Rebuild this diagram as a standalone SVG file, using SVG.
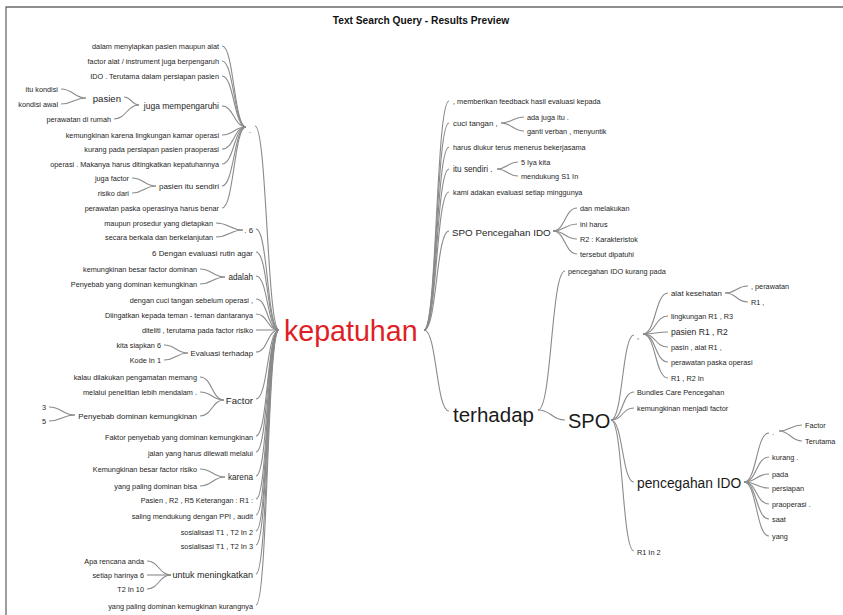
<svg xmlns="http://www.w3.org/2000/svg" width="843" height="615" viewBox="0 0 843 615">
<style>
text{font-family:"Liberation Sans",Arial,sans-serif;fill:#262626;font-size:7.3px;dominant-baseline:central}
.e{text-anchor:end}
.ttl{font-weight:bold;font-size:10.2px;text-anchor:middle;fill:#111}
.m{font-size:8.2px}
.l{font-size:9.6px}
.big{font-size:28.6px;fill:#de1f26}
.h2{font-size:20.5px;fill:#1a1a1a}
.h3{font-size:20px;fill:#1a1a1a}
.h4{font-size:13.8px;fill:#1a1a1a}
.c path{fill:none;stroke:#8a8a8a;stroke-width:1.1}
</style>
<rect x="0" y="0" width="843" height="615" fill="#fff"/>
<path d="M6 615V7H843" fill="none" stroke="#6a6a6a" stroke-width="1.3"/>
<text class="ttl" x="421" y="20">Text Search Query - Results Preview</text>

<g id="connectors" class="c">
<path d="M222 46C234 46 234 127 246 127"/>
<path d="M222 61C234 61 234 127 246 127"/>
<path d="M222 76C234 76 234 127 246 127"/>
<path d="M222 106C234 106 234 127 246 127"/>
<path d="M222 135C234 135 234 127 246 127"/>
<path d="M222 149C234 149 234 127 246 127"/>
<path d="M222 164C234 164 234 127 246 127"/>
<path d="M222 186C234 186 234 127 246 127"/>
<path d="M222 208C234 208 234 127 246 127"/>
<path d="M124 97C131 97 132 105 139 105"/>
<path d="M114 119C126 119 127 105 139 105"/>
<path d="M61 89C73 89 74 98 86 98"/>
<path d="M61 104C73 104 74 98 86 98"/>
<path d="M132 178C144 178 144 186 156 186"/>
<path d="M132 193C144 193 144 186 156 186"/>
<path d="M216 223C229 223 230 230 243 230"/>
<path d="M216 237C229 237 230 230 243 230"/>
<path d="M200 269C212 269 213 277 225 277"/>
<path d="M200 284C212 284 213 277 225 277"/>
<path d="M164 345C176 345 176 353 188 353"/>
<path d="M164 360C176 360 176 353 188 353"/>
<path d="M200 377C212 377 212 400 224 400"/>
<path d="M200 392C212 392 212 400 224 400"/>
<path d="M200 416C212 416 212 400 224 400"/>
<path d="M49 407C62 407 62 415 75 415"/>
<path d="M49 421C62 421 62 415 75 415"/>
<path d="M200 469C212 469 213 477 225 477"/>
<path d="M200 486C212 486 213 477 225 477"/>
<path d="M147 561C159 561 159 575 171 575"/>
<path d="M147 575C159 575 159 575 171 575"/>
<path d="M147 589C159 589 159 575 171 575"/>
<path d="M255 126C267 126 267 330 279 330"/>
<path d="M256 229C268 229 267 330 279 330"/>
<path d="M256 252C268 252 267 330 279 330"/>
<path d="M256 276C268 276 267 330 279 330"/>
<path d="M256 299C268 299 267 330 279 330"/>
<path d="M256 314C268 314 267 330 279 330"/>
<path d="M256 330C268 330 267 330 279 330"/>
<path d="M256 352C268 352 267 330 279 330"/>
<path d="M256 399C268 399 267 330 279 330"/>
<path d="M256 436C268 436 267 330 279 330"/>
<path d="M256 452C268 452 267 330 279 330"/>
<path d="M256 476C268 476 267 330 279 330"/>
<path d="M256 499C268 499 267 330 279 330"/>
<path d="M256 515C268 515 267 330 279 330"/>
<path d="M256 531C268 531 267 330 279 330"/>
<path d="M256 545C268 545 267 330 279 330"/>
<path d="M256 574C268 574 267 330 279 330"/>
<path d="M256 605C268 605 267 330 279 330"/>
<path d="M424 330C437 330 436 101 449 101"/>
<path d="M424 330C437 330 436 123 449 123"/>
<path d="M424 330C437 330 436 147 449 147"/>
<path d="M424 330C437 330 436 169 449 169"/>
<path d="M424 330C437 330 436 192 449 192"/>
<path d="M424 330C437 330 436 231 449 231"/>
<path d="M424 330C437 330 436 411 449 411"/>
<path d="M501 123C512 123 513 117 524 117"/>
<path d="M501 123C512 123 513 131 524 131"/>
<path d="M497 169C507 169 508 162 518 162"/>
<path d="M497 169C507 169 508 176 518 176"/>
<path d="M553 231C565 231 565 208 577 208"/>
<path d="M553 231C565 231 565 224 577 224"/>
<path d="M553 231C565 231 565 239 577 239"/>
<path d="M553 231C565 231 565 254 577 254"/>
<path d="M538 410C552 410 551 271 565 271"/>
<path d="M538 410C552 410 551 420 565 420"/>
<path d="M611 420C623 420 622 335 634 335"/>
<path d="M611 420C623 420 622 392 634 392"/>
<path d="M611 420C623 420 622 408 634 408"/>
<path d="M611 420C623 420 622 482 634 482"/>
<path d="M611 420C623 420 622 551 634 551"/>
<path d="M643 334C656 334 655 293 668 293"/>
<path d="M643 334C656 334 655 316 668 316"/>
<path d="M643 334C656 334 655 332 668 332"/>
<path d="M643 334C656 334 655 347 668 347"/>
<path d="M643 334C656 334 655 362 668 362"/>
<path d="M643 334C656 334 655 378 668 378"/>
<path d="M725 293C737 293 736 286 748 286"/>
<path d="M725 293C737 293 736 302 748 302"/>
<path d="M744 482C757 482 756 433 769 433"/>
<path d="M744 482C757 482 756 457 769 457"/>
<path d="M744 482C757 482 756 474 769 474"/>
<path d="M744 482C757 482 756 488 769 488"/>
<path d="M744 482C757 482 756 504 769 504"/>
<path d="M744 482C757 482 756 519 769 519"/>
<path d="M744 482C757 482 756 536 769 536"/>
<path d="M779 431C790 431 791 425 802 425"/>
<path d="M779 431C790 431 791 441 802 441"/>
</g>

<g id="n-kepatuhan"><text class="big" x="284" y="331">kepatuhan</text></g>
<g id="n-terhadap"><text class="h2" x="453" y="414">terhadap</text></g>
<g id="n-spo"><text class="h3" x="568" y="421">SPO</text></g>

<g id="n-dot1"><text x="249" y="130">.</text></g>
<g id="n-l1"><text class="e" x="219" y="46">dalam menyiapkan pasien maupun alat</text></g>
<g id="n-l2"><text class="e" x="219" y="61">factor alat / instrument juga berpengaruh</text></g>
<g id="n-l3"><text class="e" x="219" y="76">IDO . Terutama dalam persiapan pasien</text></g>
<g id="n-itukondisi"><text class="e" x="58" y="89">itu kondisi</text></g>
<g id="n-kondisiawal"><text class="e" x="58" y="104">kondisi awal</text></g>
<g id="n-pasien"><text class="e l" x="121" y="98">pasien</text></g>
<g id="n-juga"><text class="e" style="font-size:8.5px" x="219" y="106">juga mempengaruhi</text></g>
<g id="n-rumah"><text class="e" x="111" y="119">perawatan di rumah</text></g>
<g id="n-l4"><text class="e" x="219" y="135">kemungkinan karena lingkungan kamar operasi</text></g>
<g id="n-l5"><text class="e" x="219" y="149">kurang pada persiapan pasien praoperasi</text></g>
<g id="n-l6"><text class="e" x="219" y="164">operasi . Makanya harus ditingkatkan kepatuhannya</text></g>
<g id="n-jugafactor"><text class="e" x="129" y="178">juga factor</text></g>
<g id="n-risikodari"><text class="e" x="129" y="193">risiko dari</text></g>
<g id="n-pasienitu"><text class="e" style="font-size:8px" x="219" y="186">pasien itu sendiri</text></g>
<g id="n-l7"><text class="e" x="219" y="208">perawatan paska operasinya harus benar</text></g>
<g id="n-maupun"><text class="e" x="213" y="223">maupun prosedur yang dietapkan</text></g>
<g id="n-secara"><text class="e" x="213" y="237">secara berkala dan berkelanjutan</text></g>
<g id="n-dot6"><text class="e" style="font-size:7.8px" x="253" y="230">. 6</text></g>
<g id="n-dengan6"><text class="e" style="font-size:7.9px" x="253" y="253">6 Dengan evaluasi rutin agar</text></g>
<g id="n-kbfd"><text class="e" x="197" y="269">kemungkinan besar factor dominan</text></g>
<g id="n-pydk"><text class="e" x="197" y="284">Penyebab yang dominan kemungkinan</text></g>
<g id="n-adalah"><text class="e m" x="253" y="277">adalah</text></g>
<g id="n-cuci1"><text class="e" x="253" y="300">dengan cuci tangan sebelum operasi ,</text></g>
<g id="n-diingatkan"><text class="e" x="253" y="315">Diingatkan kepada teman - teman dantaranya</text></g>
<g id="n-diteliti"><text class="e" x="253" y="330">diteliti , terutama pada factor risiko</text></g>
<g id="n-kita"><text class="e" x="161" y="345">kita siapkan 6</text></g>
<g id="n-kode"><text class="e" x="161" y="360">Kode In 1</text></g>
<g id="n-evaluasi"><text class="e" style="font-size:7.8px" x="253" y="353">Evaluasi terhadap</text></g>
<g id="n-kalau"><text class="e" x="197" y="377">kalau dilakukan pengamatan memang</text></g>
<g id="n-melalui"><text class="e" x="197" y="392">melalui penelitian lebih mendalam .</text></g>
<g id="n-factor"><text class="e l" x="253" y="400">Factor</text></g>
<g id="n-3"><text class="e" x="46" y="407">3</text></g>
<g id="n-5"><text class="e" x="46" y="421">5</text></g>
<g id="n-pdk"><text class="e" style="font-size:8px" x="197" y="416">Penyebab dominan kemungkinan</text></g>
<g id="n-faktor"><text class="e" x="253" y="437">Faktor penyebab yang dominan kemungkinan</text></g>
<g id="n-jalan"><text class="e" x="253" y="453">jalan yang harus dilewati melalui</text></g>
<g id="n-kbfr"><text class="e" x="197" y="469">Kemungkinan besar factor risiko</text></g>
<g id="n-ypdb"><text class="e" x="197" y="486">yang paling dominan bisa</text></g>
<g id="n-karena"><text class="e m" x="253" y="477">karena</text></g>
<g id="n-pasienr2"><text class="e" x="253" y="500">Pasien , R2 , R5 Keterangan : R1 :</text></g>
<g id="n-saling"><text class="e" x="253" y="516">saling mendukung dengan PPI , audit</text></g>
<g id="n-sos2"><text class="e" x="253" y="532">sosialisasi T1 , T2 In 2</text></g>
<g id="n-sos3"><text class="e" x="253" y="546">sosialisasi T1 , T2 In 3</text></g>
<g id="n-apa"><text class="e" x="144" y="561">Apa rencana anda</text></g>
<g id="n-setiap"><text class="e" x="144" y="575">setiap harinya 6</text></g>
<g id="n-t2in10"><text class="e" x="144" y="589">T2 In 10</text></g>
<g id="n-untuk"><text class="e" style="font-size:9px" x="253" y="575">untuk meningkatkan</text></g>
<g id="n-ypdkk"><text class="e" x="253" y="606">yang paling dominan kemugkinan kurangnya</text></g>

<g id="n-memberikan"><text x="453" y="101">, memberikan feedback hasil evaluasi kepada</text></g>
<g id="n-cucitangan"><text style="font-size:7.9px" x="453" y="123">cuci tangan ,</text></g>
<g id="n-adajuga"><text x="527" y="117">ada juga itu .</text></g>
<g id="n-ganti"><text x="527" y="131">ganti verban , menyuntik</text></g>
<g id="n-harus"><text x="453" y="147">harus diukur terus menerus bekerjasama</text></g>
<g id="n-itusendiri"><text class="m" x="453" y="169">itu sendiri .</text></g>
<g id="n-5iya"><text x="521" y="162">5 Iya kita</text></g>
<g id="n-mendukung"><text x="521" y="176">mendukung S1 In</text></g>
<g id="n-kami"><text x="453" y="192">kami adakan evaluasi setiap minggunya</text></g>
<g id="n-spopi"><text style="font-size:9.8px" x="452" y="232">SPO Pencegahan IDO</text></g>
<g id="n-dan"><text x="580" y="208">dan melakukan</text></g>
<g id="n-ini"><text x="580" y="224">ini harus</text></g>
<g id="n-r2k"><text x="580" y="239">R2 : Karakteristok</text></g>
<g id="n-tersebut"><text x="580" y="254">tersebut dipatuhi</text></g>
<g id="n-pikp"><text x="568" y="271">pencegahan IDO kurang pada</text></g>
<g id="n-comma"><text x="637" y="336">,</text></g>
<g id="n-alat"><text style="font-size:7.8px" x="671" y="293">alat kesehatan</text></g>
<g id="n-perawatan"><text x="751" y="286">, perawatan</text></g>
<g id="n-r1c"><text x="751" y="302">R1 ,</text></g>
<g id="n-lingkungan"><text x="671" y="316">lingkungan R1 , R3</text></g>
<g id="n-pasienr1"><text style="font-size:8.6px" x="671" y="332">pasien R1 , R2</text></g>
<g id="n-pasin"><text x="671" y="347">pasin , alat R1 ,</text></g>
<g id="n-ppo"><text x="671" y="362">perawatan paska operasi</text></g>
<g id="n-r1r2"><text x="671" y="378">R1 , R2 In</text></g>
<g id="n-bundles"><text x="637" y="392">Bundles Care Pencegahan</text></g>
<g id="n-kmf"><text x="637" y="408">kemungkinan menjadi factor</text></g>
<g id="n-pido"><text class="h4" x="637" y="483">pencegahan IDO</text></g>
<g id="n-dot2"><text x="772" y="432">.</text></g>
<g id="n-factor2"><text x="805" y="425">Factor</text></g>
<g id="n-terutama"><text x="805" y="441">Terutama</text></g>
<g id="n-kurang"><text x="772" y="457">kurang .</text></g>
<g id="n-pada"><text x="772" y="474">pada</text></g>
<g id="n-persiapan"><text x="772" y="488">persiapan</text></g>
<g id="n-praoperasi"><text x="772" y="504">praoperasi .</text></g>
<g id="n-saat"><text x="772" y="519">saat</text></g>
<g id="n-yang"><text x="772" y="536">yang</text></g>
<g id="n-r1in2"><text x="637" y="552">R1 In 2</text></g>
</svg>
